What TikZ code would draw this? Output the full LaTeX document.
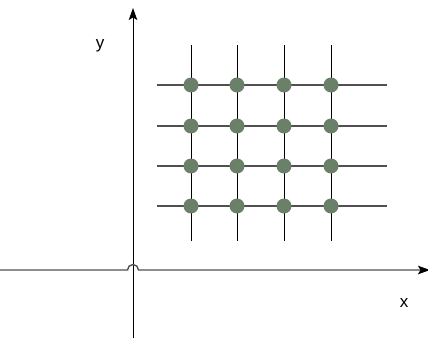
\documentclass[tikz,border=0pt]{standalone}
\usepackage{fontspec}
\setmainfont{Liberation Sans}
\usetikzlibrary{arrows.meta}
\definecolor{dotgreen}{HTML}{6B8068}
\definecolor{hline}{HTML}{505050}
\begin{document}
\begin{tikzpicture}[x=1pt,y=-1pt,
  gridv/.style={draw=black,line width=1pt},
  gridh/.style={draw=hline,line width=1.3pt},
  axis/.style={line width=1pt,-{Stealth[length=12pt,width=8.5pt,inset=2.5pt,black]}},
  pt/.style={circle,fill=dotgreen,minimum size=15pt,inner sep=0pt},
  lbl/.style={font=\fontsize{17pt}{20pt}\selectfont}]
\useasboundingbox (0,0) rectangle (428,340);
% grid lines
\foreach \x in {191,237,284,331}{\draw[gridv] (\x,45) -- (\x,241);}
\foreach \y in {85,126,166,206}{\draw[gridh] (157,\y) -- (387,\y);}
% dots
\foreach \x [count=\i] in {191,237,284,331}{
  \foreach \y [count=\j] in {85,126,166,206}{
    \node[pt] (p\i\j) at (\x,\y) {};
  }
}
% axes
\coordinate (yb) at (133,338);
\coordinate (yt) at (133,8);
\coordinate (xl) at (0,270);
\coordinate (xr) at (430,270);
\draw[axis,draw=black] (yb) -- (yt);
\draw[axis,draw=hline,line width=1.4pt] (xl) -- (127.5,270) arc[start angle=180,end angle=360,radius=5.5] -- (xr);
\node[lbl] (ylab) at (100,46) {y};
\node[lbl] (xlab) at (404,303) {x};
\end{tikzpicture}
\end{document}
